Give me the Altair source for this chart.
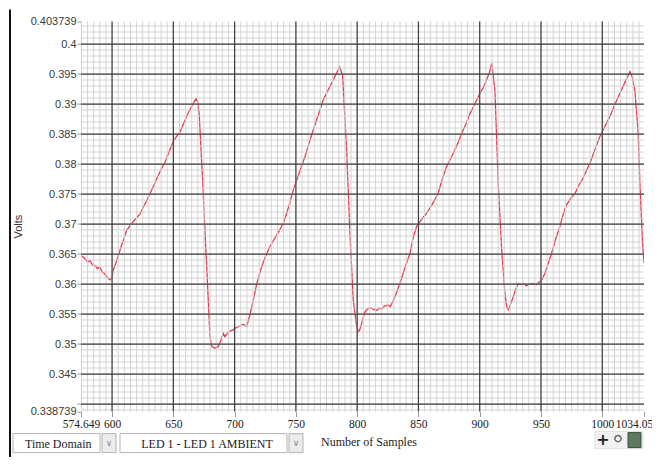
import altair as alt
import pandas as pd

# ---- data ----
samples = [574.65, 577.5, 580, 582, 584, 586.5, 588, 590, 592, 594, 596, 598.3, 600, 601, 604, 607,
           609.2, 612, 616, 619, 622.8, 626, 628, 631, 634, 637, 640.5, 643, 646, 650, 653, 655.4,
           658, 661, 664, 668.5,
           670, 671.2, 674.4, 677.2, 679.9, 681.3, 684, 686.7, 689, 690.8, 692.1, 694, 696, 698.9,
           701, 704, 707.1, 709.8, 712, 715.2, 718, 722.1, 725, 728.9, 733, 737, 740, 742.5, 745,
           747.9, 751, 754, 757.4, 760, 764.2, 768, 772.3, 776, 780.5, 783, 785.6,
           788.1, 791.4, 794.1, 796.8, 799.6, 800.9, 802, 803.6, 806, 807.7, 810.4, 813, 815.9, 818,
           819.9, 822, 825.3, 827, 829.4, 832, 834.9, 837.5, 840.3, 843.1, 845, 848.5, 852, 856.7,
           861, 866.1, 869, 873, 878.4, 882, 885.2, 889, 892, 896, 900.2, 903, 905.6, 908, 909.8,
           912.4, 915.1, 917.9, 920.6, 922, 923.3, 925, 927.4, 929.5, 931.5, 933.5, 936, 938.3, 940,
           943.7, 946, 949.1, 951, 953.2, 955.5, 958.6, 962, 965.4, 968, 970.9, 974, 977.7, 981, 984,
           987, 989.9, 994, 998.1, 1002, 1006.2, 1010, 1014.4, 1018, 1020.5, 1022.6,
           1024.5, 1026.6, 1029.3, 1030.7, 1032.9, 1034.05]
volts = [0.3648, 0.3643, 0.3637, 0.3639, 0.3632, 0.3630, 0.3626, 0.3628, 0.3620, 0.3617, 0.3611,
         0.3607, 0.3611, 0.3623, 0.3640, 0.3660, 0.3673, 0.3690, 0.3701, 0.3708, 0.3717, 0.3730,
         0.3738, 0.3751, 0.3764, 0.3778, 0.3793, 0.3802, 0.3818, 0.3838, 0.3847, 0.3853, 0.3866,
         0.3880, 0.3893, 0.3909,
         0.3903, 0.3880, 0.3751, 0.3629, 0.3512, 0.3496, 0.3493, 0.3496, 0.3507, 0.3518, 0.3512,
         0.3518, 0.3521, 0.3524, 0.3527, 0.3530, 0.3533, 0.3529, 0.3545, 0.3573, 0.3600, 0.3629,
         0.3645, 0.3663, 0.3677, 0.3691, 0.3703, 0.3718, 0.3735, 0.3757, 0.3775, 0.3793, 0.3812,
         0.3830, 0.3857, 0.3880, 0.3907, 0.3922, 0.3940, 0.3951, 0.3962,
         0.3948, 0.3823, 0.3685, 0.3573, 0.3529, 0.3520, 0.3523, 0.3534, 0.3552, 0.3557, 0.3561,
         0.3558, 0.3556, 0.3560, 0.3558, 0.3563, 0.3565, 0.3562, 0.3572, 0.3585, 0.3601, 0.3618,
         0.3635, 0.3651, 0.3672, 0.3696, 0.3706, 0.3718, 0.3732, 0.3751, 0.3772, 0.3796, 0.3818,
         0.3834, 0.3851, 0.3868, 0.3884, 0.3900, 0.3918, 0.3928, 0.3940, 0.3953, 0.3968,
         0.3923, 0.3768, 0.3657, 0.3584, 0.3562, 0.3557, 0.3565, 0.3579, 0.3592, 0.3601, 0.3599,
         0.3601, 0.3597, 0.3600, 0.3601, 0.3599, 0.3604, 0.3608, 0.3618, 0.3632, 0.3651, 0.3675,
         0.3696, 0.3715, 0.3732, 0.3742, 0.3751, 0.3765, 0.3775, 0.3789, 0.3801, 0.3824, 0.3846,
         0.3862, 0.3879, 0.3898, 0.3918, 0.3934, 0.3945, 0.3954,
         0.3945, 0.3923, 0.3851, 0.3768, 0.3668, 0.3635]

x_ticks = [574.649, 600, 650, 700, 750, 800, 850, 900, 950, 1000, 1034.05]
y_ticks = [0.338739, 0.34, 0.345, 0.35, 0.355, 0.36, 0.365, 0.37, 0.375, 0.38, 0.385, 0.39,
           0.395, 0.4, 0.403739]
x_major = [600, 650, 700, 750, 800, 850, 900, 950, 1000]
y_major = [0.34, 0.345, 0.35, 0.355, 0.36, 0.365, 0.37, 0.375, 0.38, 0.385, 0.39, 0.395, 0.4]
x_minor = [575 + 5 * i for i in range(92)]
y_minor = [round(0.339 + 0.001 * i, 3) for i in range(65)]

x_domain = [574.649, 1034.05]
y_domain = [0.338739, 0.403739]

df = pd.DataFrame({"sample": samples, "volts": volts})
xs = alt.Scale(domain=x_domain, nice=False, zero=False)
ys = alt.Scale(domain=y_domain, nice=False, zero=False)

x_axis = alt.Axis(values=x_ticks, format=".6~g", grid=False, domain=False, tickSize=5,
                  tickColor="#999999", labelFont="Liberation Serif", labelFontSize=11.5,
                  labelColor="#222222", labelPadding=2, labelFlush=False, labelOverlap=False,
                  labelBound=False,
                  labelOffset={"condition": {"test": "datum.value > 1030", "value": -10}, "value": 0},
                  title="Number of Samples", titleFont="Liberation Serif",
                  titleFontSize=12, titleFontWeight="normal", titleColor="#222222",
                  titleX=287.5, titleY=30.4, titleBaseline="middle", titleAlign="center")
y_axis = alt.Axis(values=y_ticks, format=".6~g",
                  labelExpr="abs(datum.value - 0.34) < 1e-7 ? '' : datum.label",
                  grid=False, domain=False, tickSize=4, tickColor="#999999",
                  labelFont="Liberation Sans", labelFontSize=11, labelColor="#3a3a3a",
                  labelPadding=1, labelOverlap=False, labelFlush=False, labelBound=False,
                  title="Volts", titleFont="Liberation Sans", titleFontSize=11,
                  titleFontWeight="normal", titleColor="#333333", titleX=-63, titleY=204.5,
                  titleAngle=270, titleBaseline="middle", titleAlign="center")

line = alt.Chart(df).mark_line(color="#e5394f", strokeWidth=1.3, clip=True).encode(
    x=alt.X("sample:Q", scale=xs, axis=x_axis, title="Number of Samples"),
    y=alt.Y("volts:Q", scale=ys, axis=y_axis, title="Volts"),
)

minor_x = alt.Chart(pd.DataFrame({"v": x_minor})).mark_rule(color="#d3d3d3", strokeWidth=1).encode(
    x=alt.X("v:Q", scale=xs, axis=x_axis, title="Number of Samples"))
minor_y = alt.Chart(pd.DataFrame({"v": y_minor})).mark_rule(color="#d3d3d3", strokeWidth=1).encode(
    y=alt.Y("v:Q", scale=ys, axis=y_axis, title="Volts"))
major_x = alt.Chart(pd.DataFrame({"v": x_major})).mark_rule(color="#3c3c3c", strokeWidth=1.2).encode(
    x=alt.X("v:Q", scale=xs, axis=x_axis, title="Number of Samples"))
major_y = alt.Chart(pd.DataFrame({"v": y_major})).mark_rule(color="#3c3c3c", strokeWidth=1.2).encode(
    y=alt.Y("v:Q", scale=ys, axis=y_axis, title="Volts"))

one = pd.DataFrame({"a": [0]})

def box(x1, x2, y1, y2, fill, stroke="#b4b4b4"):
    return alt.Chart(one).mark_rect(fill=fill, stroke=stroke, strokeWidth=1).encode(
        x=alt.value(x1), x2=alt.value(x2), y=alt.value(y1), y2=alt.value(y2))

def label(txt, x, y, size=12, align="left", color="#222222", font="Liberation Serif", weight="normal"):
    return alt.Chart(one).mark_text(text=txt, align=align, baseline="middle", fontSize=size,
                                    font=font, color=color, fontWeight=weight).encode(
        x=alt.value(x), y=alt.value(y))

frame = alt.Chart(one).mark_rule(color="#111111", strokeWidth=2).encode(
    x=alt.value(-71), y=alt.value(-12), y2=alt.value(460))

deco = [
    frame,
    box(-68, 19, 412, 431, "#ffffff"),
    box(21, 35, 412, 431, "#ececec"),
    label("Time Domain", -56, 422),
    label("∨", 28, 421, size=9, align="center", color="#888888", font="DejaVu Sans"),
    box(39, 206, 412, 431, "#ffffff"),
    box(208, 222, 412, 431, "#ececec"),
    label("LED 1 - LED 1 AMBIENT", 126, 422, align="center"),
    label("∨", 215, 421, size=9, align="center", color="#888888", font="DejaVu Sans"),
    box(514, 562, 410, 427, "#f2f2f2", stroke="#e0e0e0"),
    label("+", 522, 418, size=16, align="center", color="#222222", font="DejaVu Sans", weight="bold"),
    alt.Chart(one).mark_point(shape="circle", size=40, color="#333333", strokeWidth=1.5).encode(
        x=alt.value(537), y=alt.value(417)),
    box(547, 560, 411, 426, "#5d7a5d", stroke="#3d4d3d"),
]

chart = alt.layer(line, minor_x, minor_y, major_x, major_y, *deco).properties(
    width=563, height=390,
    padding={"left": 73, "top": 13.6, "right": 8, "bottom": 45},
    autosize=alt.AutoSizeParams(type="none"),
    background="#ffffff",
).configure_view(stroke=None)

chart.save("out.html", embed_options={"renderer": "svg", "actions": False})
